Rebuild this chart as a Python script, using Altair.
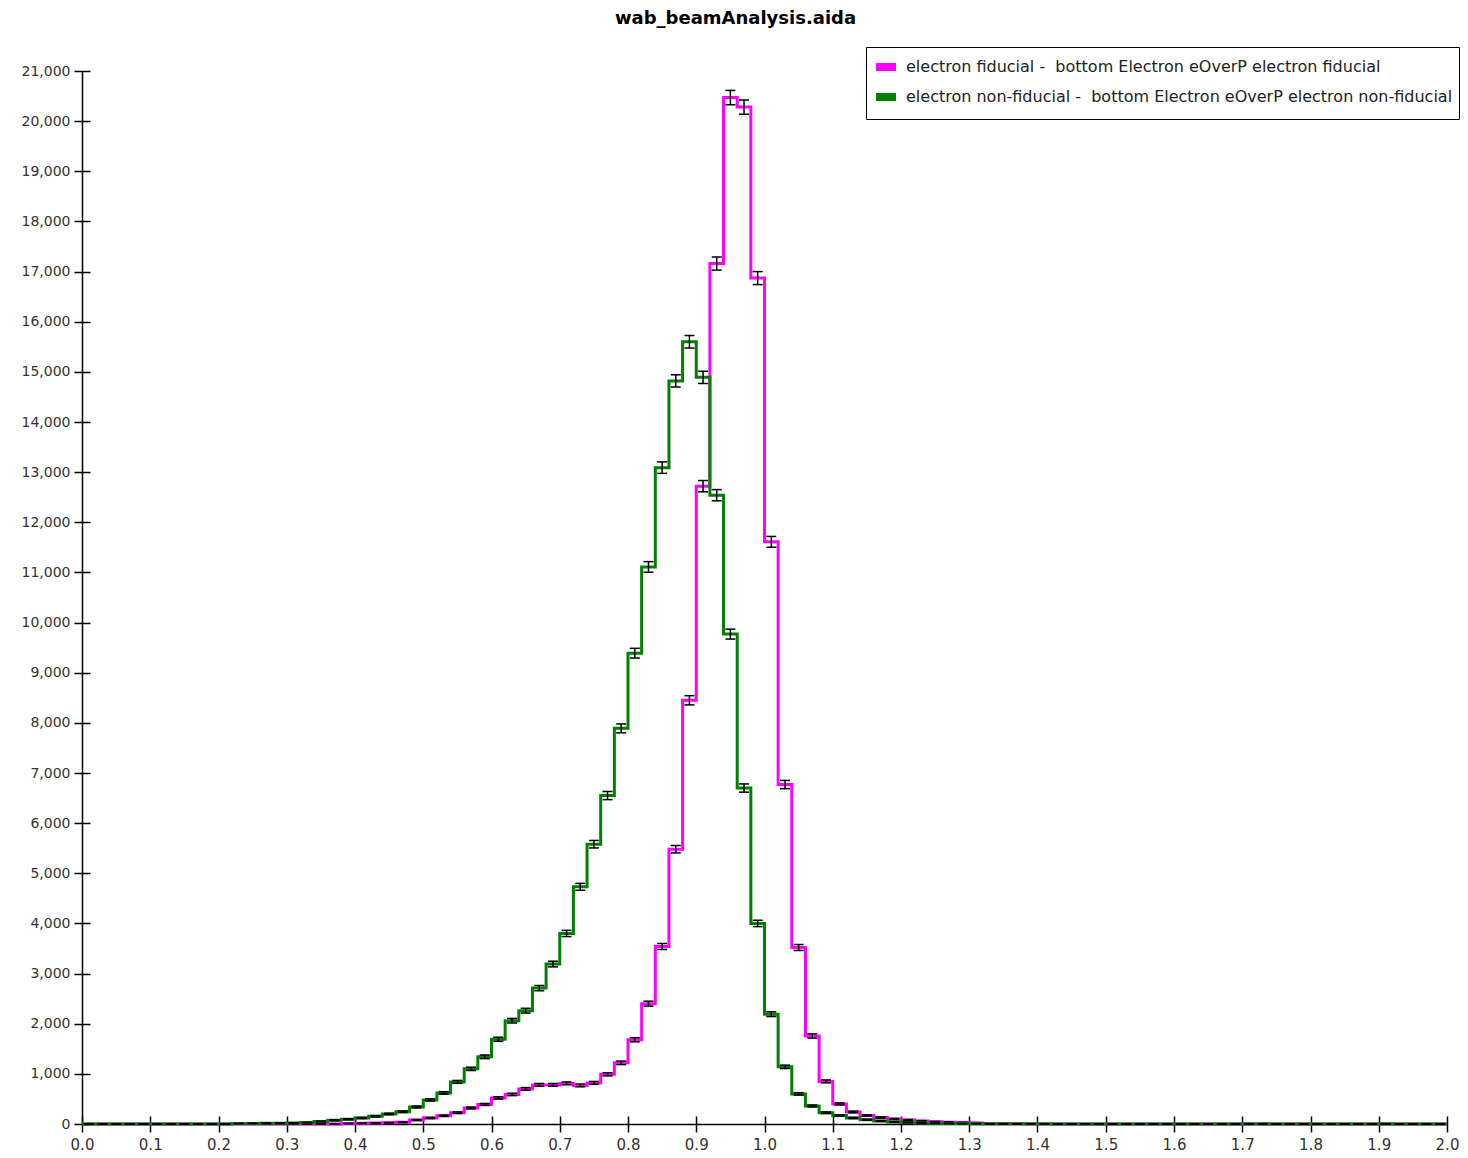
import math
import pandas as pd
import altair as alt

# Histogram binning: 100 bins of width 0.02 covering E/p from 0.0 to 2.0
X_MIN = 0.0
X_MAX = 2.0
N_BINS = 100
BIN_WIDTH = 0.02

SERIES_FID = "electron fiducial -\u00a0 bottom Electron eOverP electron fiducial"
SERIES_NONFID = "electron non-fiducial -\u00a0 bottom Electron eOverP electron non-fiducial"

# Entries per bin, electron fiducial
fiducial = [
    0, 0, 0, 0, 0, 0, 0, 0, 0, 0,
    0, 0, 0, 0, 0, 0, 0, 0, 0, 10,
    15, 20, 25, 35, 80, 120, 165, 225, 320, 390,
    520, 590, 700, 780, 780, 810, 770, 820, 990, 1220,
    1680, 2400, 3540, 5480, 8450, 12720, 17160, 20470, 20280, 16870,
    11610, 6770, 3520, 1755, 850, 400, 240, 170, 130, 100,
    80, 60, 45, 35, 28, 22, 4, 3, 3, 2,
    2, 2, 1, 1, 1, 1, 1, 1, 1, 1,
    1, 1, 1, 1, 1, 6, 6, 1, 1, 1,
    1, 1, 1, 1, 1, 5, 1, 0, 0, 0,
]

# Entries per bin, electron non-fiducial
non_fiducial = [
    0, 0, 0, 0, 0, 0, 0, 0, 0, 0,
    0, 10, 12, 14, 16, 20, 28, 50, 75, 95,
    120, 155, 200, 245, 340, 480, 620, 840, 1100, 1340,
    1690, 2060, 2260, 2710, 3190, 3800, 4730, 5580, 6550, 7890,
    9390, 11110, 13090, 14820, 15600, 14890, 12540, 9770, 6700, 4000,
    2190, 1140, 600, 360, 225, 170, 120, 85, 60, 40,
    30, 20, 15, 10, 8, 5, 4, 4, 3, 3,
    3, 2, 2, 2, 2, 2, 2, 1, 1, 1,
    1, 1, 1, 1, 1, 1, 1, 1, 1, 1,
    1, 1, 1, 1, 1, 1, 1, 0, 1, 1,
]

Y_TICKS = list(range(0, 21001, 1000))
X_TICKS = [round(0.1 * i, 1) for i in range(21)]

COLORS = {SERIES_FID: "#ff00ff", SERIES_NONFID: "#008000"}
FONT = "DejaVu Sans"


def step_frame(name, counts):
    edges = [round(X_MIN + i * BIN_WIDTH, 4) for i in range(N_BINS)]
    rows = [{"x": e, "y": c, "series": name} for e, c in zip(edges, counts)]
    rows.append({"x": X_MAX, "y": counts[-1], "series": name})
    return pd.DataFrame(rows)


def error_frame(counts):
    rows = []
    for i, c in enumerate(counts):
        err = math.sqrt(c)
        rows.append({
            "xc": round(X_MIN + (i + 0.5) * BIN_WIDTH, 4),
            "lo": max(c - err, 0.0),
            "hi": c + err,
        })
    return pd.DataFrame(rows)


x_scale = alt.Scale(domain=[X_MIN, X_MAX], nice=False, zero=False)
y_scale = alt.Scale(domain=[0, 21000], nice=False)

x_axis = alt.Axis(values=X_TICKS, format=".1f", title=None, tickSize=8,
                  labelPadding=5, labelFontSize=15, labelFlush=False, grid=False)
y_axis = alt.Axis(values=Y_TICKS, format=",d", title=None, tickSize=8,
                  labelPadding=4, labelFlush=False, grid=False)

color_scale = alt.Scale(domain=[SERIES_FID, SERIES_NONFID],
                        range=[COLORS[SERIES_FID], COLORS[SERIES_NONFID]])

legend = alt.Legend(
    title=None,
    orient="none",
    legendX=784,
    legendY=-24,
    fillColor="white",
    strokeColor="black",
    padding=6,
    rowPadding=-5,
    symbolType="M-1,0L1,0",
    symbolSize=400,
    symbolStrokeWidth=8,
    symbolOpacity=1,
    labelFont=FONT,
    labelFontSize=16,
    labelColor="#222222",
    labelLimit=900,
    labelOffset=6,
    symbolOffset=0,
)


def hist_layers(name, counts):
    line = alt.Chart(step_frame(name, counts)).mark_line(
        interpolate="step-after", strokeWidth=3, strokeJoin="miter"
    ).encode(
        x=alt.X("x:Q", scale=x_scale, axis=x_axis),
        y=alt.Y("y:Q", scale=y_scale, axis=y_axis),
        color=alt.Color("series:N", scale=color_scale, legend=legend),
    )
    err = error_frame(counts)
    bars = alt.Chart(err).mark_rule(color="black", strokeWidth=1.5).encode(
        x=alt.X("xc:Q", scale=x_scale, axis=x_axis),
        y=alt.Y("lo:Q", scale=y_scale, axis=y_axis),
        y2="hi:Q",
    )
    cap_lo = alt.Chart(err).mark_tick(
        orient="horizontal", color="black", size=10, thickness=1.5, opacity=1
    ).encode(
        x=alt.X("xc:Q", scale=x_scale, axis=x_axis),
        y=alt.Y("lo:Q", scale=y_scale, axis=y_axis),
    )
    cap_hi = alt.Chart(err).mark_tick(
        orient="horizontal", color="black", size=10, thickness=1.5, opacity=1
    ).encode(
        x=alt.X("xc:Q", scale=x_scale, axis=x_axis),
        y=alt.Y("hi:Q", scale=y_scale, axis=y_axis),
    )
    return [line, bars, cap_lo, cap_hi]


main = alt.layer(
    *hist_layers(SERIES_FID, fiducial),
    *hist_layers(SERIES_NONFID, non_fiducial),
)

# Inner half of the cross-shaped ticks: a label-free axis pair shifted into the plot
tick_frame = pd.DataFrame({"x": [X_MIN, X_MAX], "y": [0, 21000]})
inner_ticks = alt.Chart(tick_frame).mark_point(opacity=0).encode(
    x=alt.X("x:Q", scale=x_scale,
            axis=alt.Axis(values=X_TICKS, orient="bottom", offset=-8, tickSize=8,
                          labels=False, domain=False, title=None, grid=False)),
    y=alt.Y("y:Q", scale=y_scale,
            axis=alt.Axis(values=Y_TICKS, orient="left", offset=-8, tickSize=8,
                          labels=False, domain=False, title=None, grid=False)),
)

chart = alt.layer(main, inner_ticks).resolve_axis(
    x="independent", y="independent"
).properties(
    width=1365,
    height=1053,
    padding={"left": 82, "top": 71, "right": 21, "bottom": 34},
    autosize=alt.AutoSizeParams(type="none"),
    title=alt.TitleParams(
        "wab_beamAnalysis.aida",
        font=FONT,
        fontSize=18,
        fontWeight="bold",
        color="black",
        anchor="middle",
        dx=-29,
        offset=19,
    ),
).configure_view(
    stroke=None
).configure_axis(
    domainColor="black",
    domainWidth=1.5,
    tickColor="black",
    tickWidth=1.5,
    labelFont=FONT,
    labelFontSize=14,
    labelColor="#333333",
)

chart.save("out.html", embed_options={"renderer": "svg", "actions": False})
